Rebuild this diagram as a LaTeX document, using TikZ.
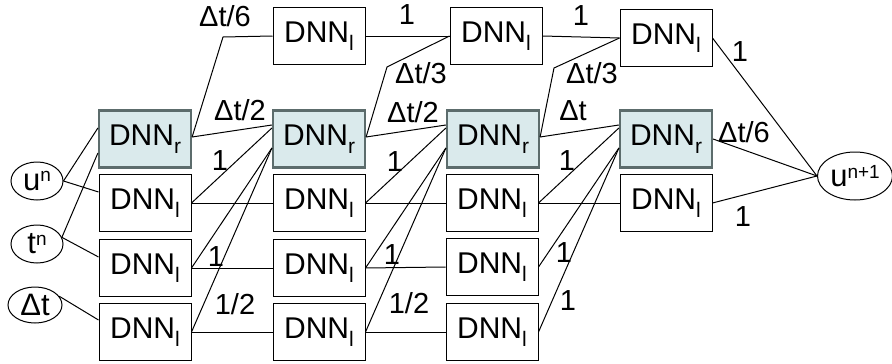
\documentclass[tikz,border=0pt]{standalone}
\usepackage{fontspec}
\setmainfont{Liberation Sans}
\usetikzlibrary{shapes.geometric,positioning}
\definecolor{dnnfill}{RGB}{218,234,236}
\definecolor{dnnedge}{RGB}{92,108,108}
\newcommand\dsub[1]{\raisebox{-0.28em}{\fontsize{21}{21}\selectfont #1}}
\newcommand\dsup[1]{\raisebox{0.28em}{\fontsize{19}{19}\selectfont #1}}

\begin{document}
\begin{tikzpicture}[x=1pt,y=-1pt,line width=1pt,
  dnn/.style={draw,minimum width=92pt,minimum height=57pt,inner sep=0pt,
    font=\fontsize{30}{36}\selectfont},
  dnnr/.style={dnn,fill=dnnfill,draw=dnnedge,line width=2.2pt},
  var/.style={ellipse,draw,inner sep=0pt,minimum width=52pt,minimum height=38pt,
    font=\fontsize{31}{36}\selectfont},
  wt/.style={inner sep=0pt,font=\fontsize{29}{34}\selectfont}]
\useasboundingbox (0,0) rectangle (892,364);

% inputs and output
\node[var] (un) at (37,181) {u\dsup{n}};
\node[var] (tn) at (37,244) {t\dsup{n}};
\node[var,minimum width=54pt,minimum height=36pt] (dt) at (35,305) {Δt};
\node[var,minimum width=75pt,minimum height=48pt] (unext) at (855,176) {u\dsup{n+1}};

% stage 1
\node[dnnr] (c1r) at (145,139) {DNN\dsub{r}};
\node[dnn] (c1a) at (145,203) {DNN\dsub{l}};
\node[dnn] (c1b) at (145,268) {DNN\dsub{l}};
\node[dnn] (c1c) at (145,332) {DNN\dsub{l}};
% stage 2
\node[dnn] (c2t) at (319,36) {DNN\dsub{l}};
\node[dnnr] (c2r) at (319,139) {DNN\dsub{r}};
\node[dnn] (c2a) at (319,203) {DNN\dsub{l}};
\node[dnn] (c2b) at (319,268) {DNN\dsub{l}};
\node[dnn] (c2c) at (319,332) {DNN\dsub{l}};
% stage 3
\node[dnn] (c3t) at (496,36) {DNN\dsub{l}};
\node[dnnr] (c3r) at (493,139) {DNN\dsub{r}};
\node[dnn] (c3a) at (492,203) {DNN\dsub{l}};
\node[dnn] (c3b) at (492,267) {DNN\dsub{l}};
\node[dnn] (c3c) at (492,332) {DNN\dsub{l}};
% stage 4
\node[dnn] (c4t) at (666,38) {DNN\dsub{l}};
\node[dnnr] (c4r) at (666,139) {DNN\dsub{r}};
\node[dnn] (c4a) at (666,203) {DNN\dsub{l}};

\coordinate (k1) at (223,37);
\coordinate (k2) at (387,67);
\coordinate (k3) at (554,68);

% inputs
\draw (un.east) -- ([yshift=11pt]c1r.west);
\draw (un.east) -- ([yshift=11pt]c1a.west);
\draw (tn.15) -- ([yshift=-14pt]c1r.west);
\draw (tn.15) -- ([yshift=11pt]c1b.west);
\draw (dt.20) -- ([yshift=12pt]c1c.west);

% stage 1 -> 2
\draw ([yshift=2pt]c1r.east) -- (k1) -- (c2t.west);
\draw ([yshift=2pt]c1r.east) -- ([yshift=14pt]c2r.west);
\draw (c1a.east) -- ([yshift=11pt]c2r.west);
\draw (c1b.east) -- ([yshift=-9pt]c2r.west);
\draw (c1c.east) -- ([yshift=-9pt]c2r.west);
\draw (c1a.east) -- (c2a.west);
\draw (c1b.east) -- (c2b.west);
\draw (c1c.east) -- (c2c.west);

% stage 2 -> 3
\draw (c2t.east) -- (c3t.west);
\draw ([yshift=2pt]c2r.east) -- (k2) -- (c3t.west);
\draw ([yshift=2pt]c2r.east) -- ([yshift=14pt]c3r.west);
\draw (c2a.east) -- ([yshift=11pt]c3r.west);
\draw (c2b.east) -- ([yshift=-9pt]c3r.west);
\draw (c2c.east) -- ([yshift=-9pt]c3r.west);
\draw (c2a.east) -- (c3a.west);
\draw (c2b.east) -- (c3b.west);
\draw (c2c.east) -- (c3c.west);

% stage 3 -> 4
\draw (c3t.east) -- (c4t.west);
\draw ([yshift=2pt]c3r.east) -- (k3) -- (c4t.west);
\draw ([yshift=2pt]c3r.east) -- ([yshift=14pt]c4r.west);
\draw (c3a.east) -- ([yshift=11pt]c4r.west);
\draw (c3b.east) -- ([yshift=-9pt]c4r.west);
\draw (c3c.east) -- ([yshift=-9pt]c4r.west);
\draw (c3a.east) -- (c4a.west);

% stage 4 -> output
\draw (c4t.east) -- (unext.west);
\draw (c4r.east) -- (unext.west);
\draw (c4a.east) -- (unext.west);

% weights
\node[wt] (w1) at (225,16) {Δt/6};
\node[wt] (w2) at (240,110) {Δt/2};
\node[wt] (w3) at (220,161) {1};
\node[wt] (w4) at (216,257) {1};
\node[wt] (w5) at (235,304) {1/2};
\node[wt] (w6) at (407,15) {1};
\node[wt] (w7) at (421,73) {Δt/3};
\node[wt] (w8) at (413,112) {Δt/2};
\node[wt] (w9) at (395,162) {1};
\node[wt] (w10) at (392,255) {1};
\node[wt] (w11) at (409,303) {1/2};
\node[wt] (w12) at (581,16) {1};
\node[wt] (w13) at (592,73) {Δt/3};
\node[wt] (w14) at (573,111) {Δt};
\node[wt] (w15) at (567,161) {1};
\node[wt] (w16) at (564,253) {1};
\node[wt] (w17) at (568,301) {1};
\node[wt] (w18) at (740,52) {1};
\node[wt] (w19) at (744,132) {Δt/6};
\node[wt] (w20) at (743,217) {1};
\end{tikzpicture}
\end{document}
